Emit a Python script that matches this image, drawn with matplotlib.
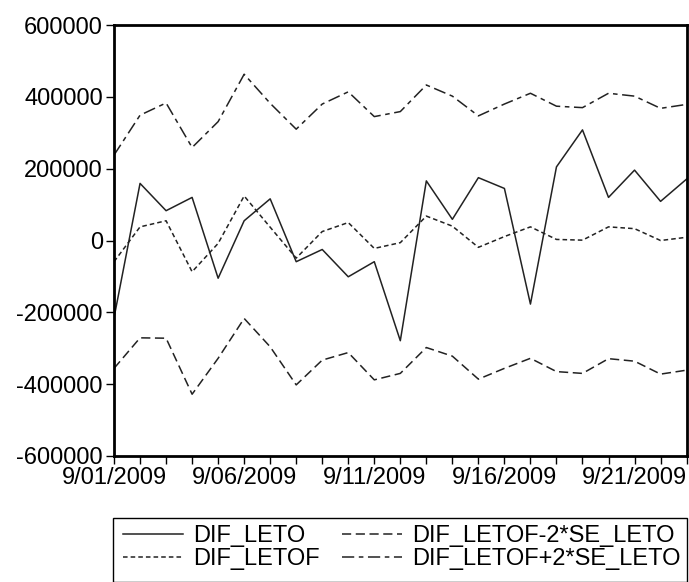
# -*- coding: utf-8 -*-
# forecast of DIF_LETO with +/- 2 SE bands, Sept 2009

import numpy as np
import pandas as pd
import matplotlib
matplotlib.use('Agg')
import matplotlib.pyplot as plt
import matplotlib.dates as mdates
from matplotlib.ticker import FuncFormatter
from matplotlib.patches import Rectangle

plt.rcParams['font.family'] = ['Liberation Sans', 'DejaVu Sans']

#%%
# data
dates = pd.date_range('2009-09-01', periods=23, freq='D')

dif_leto = [-215000, 159000, 83000, 120000, -105000, 55000, 116000, -59000,
            -25000, -101000, -59000, -279000, 166000, 59000, 175000, 145000,
            -177000, 205000, 308000, 120000, 196000, 109000, 171000]

dif_letof = [-59000, 38000, 55000, -87000, -8000, 124000, 37000, -49000,
             25000, 50000, -22000, -6000, 68000, 40000, -19000, 11000,
             38000, 3000, 1000, 38000, 33000, 0, 9000]

letof_minus = [-356000, -271000, -272000, -428000, -328000, -217000, -296000,
               -402000, -333000, -312000, -388000, -370000, -298000, -322000,
               -386000, -356000, -328000, -365000, -370000, -329000, -336000,
               -372000, -361000]

letof_plus = [238000, 349000, 383000, 259000, 331000, 463000, 382000, 310000,
              380000, 414000, 345000, 359000, 433000, 402000, 347000, 380000,
              410000, 374000, 370000, 410000, 402000, 368000, 379000]

yticks = [-600000, -400000, -200000, 0, 200000, 400000, 600000]

#%%
W, H = 689, 582
fig = plt.figure(figsize=(W / 100, H / 100), dpi=100)
ax = fig.add_axes([0.1655, 0.2165, 0.831, 0.7405])

col = '#222222'
ax.plot(dates, dif_leto, color=col, lw=1.1, label='DIF_LETO')
ax.plot(dates, dif_letof, color=col, lw=1.1, dashes=(3, 2), label='DIF_LETOF')
ax.plot(dates, letof_minus, color=col, lw=1.1, dashes=(6, 3),
        label='DIF_LETOF-2*SE_LETO')
ax.plot(dates, letof_plus, color=col, lw=1.1, dashes=(8, 3, 3, 3),
        label='DIF_LETOF+2*SE_LETO')

ax.set_xlim(dates[0], dates[-1])
ax.set_ylim(-600000, 600000)
ax.set_yticks(yticks)
ax.yaxis.set_major_formatter(FuncFormatter(lambda v, p: '%d' % v))

ax.xaxis.set_major_locator(mdates.DayLocator(bymonthday=[1, 6, 11, 16, 21]))
ax.xaxis.set_minor_locator(mdates.DayLocator())
ax.xaxis.set_major_formatter(FuncFormatter(
    lambda v, p: '%d/%02d/%d' % (mdates.num2date(v).month,
                                 mdates.num2date(v).day,
                                 mdates.num2date(v).year)))

for s in ax.spines.values():
    s.set_linewidth(2)
ax.tick_params(axis='both', which='both', direction='out', length=6,
               width=1, labelsize=17, top=False, right=False)
ax.tick_params(axis='y', pad=2)
ax.tick_params(axis='x', pad=2)

# legend without its own frame, box drawn separately
leg = ax.legend(loc='upper left', bbox_to_anchor=(123 / W, 1 - 525 / H),
                bbox_transform=fig.transFigure, ncol=2,
                fontsize=17, frameon=False, handlelength=2.55,
                handletextpad=0.42, borderpad=0, labelspacing=0.05,
                borderaxespad=0, columnspacing=0.93)
fig.patches.append(Rectangle((113 / W, 0), (687 - 113) / W, 1 - 518 / H,
                             transform=fig.transFigure, fill=False,
                             edgecolor='black', lw=1))

plt.savefig('out.png', dpi=100)
